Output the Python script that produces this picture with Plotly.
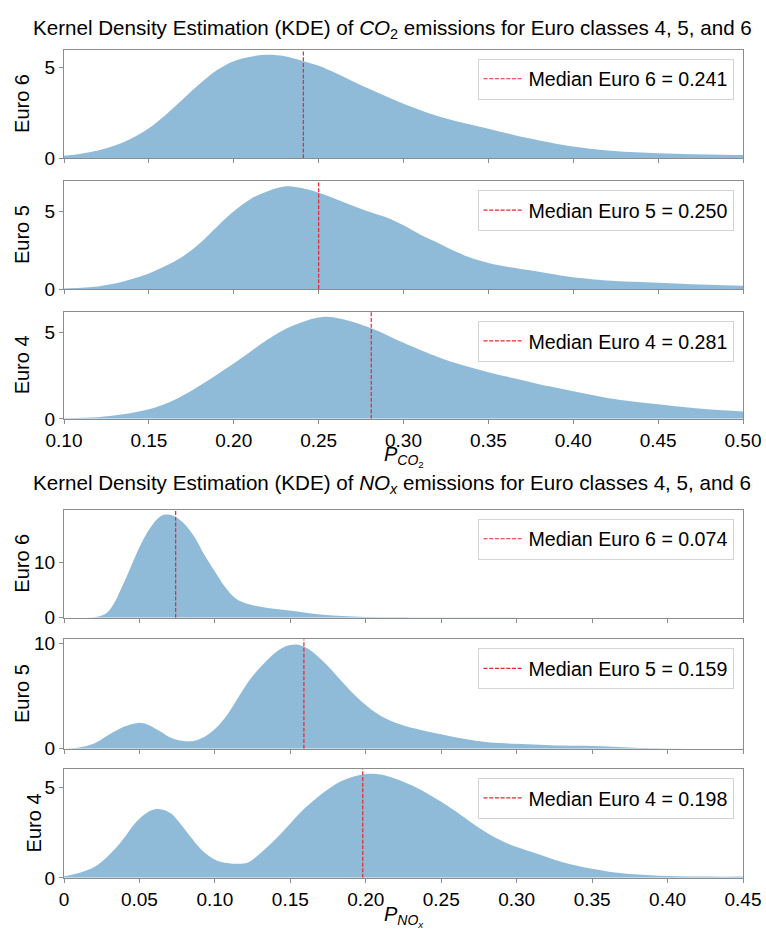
import plotly.graph_objects as go

# ---------------- data ----------------
co2_e6_x = [0.100, 0.110, 0.120, 0.130, 0.140, 0.150, 0.160, 0.170, 0.180, 0.190, 0.200, 0.210, 0.220,
            0.230, 0.241, 0.250, 0.260, 0.270, 0.280, 0.290, 0.300, 0.310, 0.320, 0.335, 0.350, 0.365,
            0.380, 0.400, 0.420, 0.440, 0.460, 0.480, 0.500]
co2_e6_y = [0.13, 0.25, 0.42, 0.7, 1.1, 1.65, 2.4, 3.25, 4.1, 4.85, 5.35, 5.6, 5.7,
            5.62, 5.35, 5.1, 4.7, 4.25, 3.82, 3.4, 3.0, 2.65, 2.33, 1.95, 1.62, 1.28,
            0.98, 0.65, 0.43, 0.31, 0.25, 0.21, 0.18]

co2_e5_x = [0.100, 0.110, 0.120, 0.130, 0.140, 0.150, 0.160, 0.170, 0.180, 0.190, 0.200, 0.210, 0.220,
            0.231, 0.240, 0.250, 0.263, 0.278, 0.290, 0.300, 0.310, 0.321, 0.330, 0.338, 0.350, 0.364,
            0.378, 0.390, 0.400, 0.420, 0.440, 0.460, 0.480, 0.500]
co2_e5_y = [0.04, 0.08, 0.17, 0.35, 0.65, 1.0, 1.5, 2.1, 2.95, 4.0, 5.0, 5.8, 6.3,
            6.62, 6.5, 6.2, 5.67, 5.04, 4.6, 4.1, 3.5, 2.94, 2.45, 2.08, 1.68, 1.38,
            1.14, 0.92, 0.76, 0.55, 0.45, 0.36, 0.27, 0.21]

co2_e4_x = [0.100, 0.120, 0.134, 0.150, 0.163, 0.177, 0.190, 0.200, 0.210, 0.220, 0.235, 0.252, 0.263,
            0.281, 0.300, 0.321, 0.335, 0.350, 0.365, 0.378, 0.400, 0.421, 0.450, 0.479, 0.500]
co2_e4_y = [0.04, 0.1, 0.25, 0.55, 1.0, 1.75, 2.55, 3.2, 3.9, 4.6, 5.4, 5.9, 5.8,
            5.25, 4.4, 3.55, 3.1, 2.7, 2.35, 2.05, 1.6, 1.2, 0.85, 0.55, 0.43]

nox_e6_x = [0.000, 0.015, 0.022, 0.0285, 0.033, 0.038, 0.043, 0.048, 0.053, 0.058, 0.062, 0.066, 0.070,
            0.074, 0.080, 0.087, 0.093, 0.100, 0.106, 0.114, 0.122, 0.135, 0.152, 0.168, 0.184, 0.200,
            0.230, 0.300, 0.450]
nox_e6_y = [0.0, 0.0, 0.15, 0.9, 2.5, 5.3, 8.3, 11.5, 14.3, 16.5, 17.8, 18.5, 18.5,
            18.1, 16.8, 14.3, 11.3, 8.3, 5.8, 3.4, 2.45, 1.75, 1.2, 0.6, 0.3, 0.12,
            0.05, 0.01, 0.0]

nox_e5_x = [0.000, 0.010, 0.020, 0.030, 0.040, 0.049, 0.056, 0.063, 0.070, 0.076, 0.082, 0.088, 0.095,
            0.103, 0.110, 0.117, 0.124, 0.132, 0.140, 0.147, 0.154, 0.160, 0.167, 0.175, 0.184, 0.197,
            0.210, 0.223, 0.236, 0.249, 0.265, 0.281, 0.300, 0.330, 0.350, 0.378, 0.400, 0.450]
nox_e5_y = [0.0, 0.12, 0.5, 1.35, 2.1, 2.45, 2.25, 1.7, 1.1, 0.8, 0.69, 0.8, 1.3,
            2.3, 3.6, 5.2, 6.7, 8.0, 9.1, 9.7, 9.87, 9.6, 8.9, 7.8, 6.4, 4.5,
            3.1, 2.3, 1.8, 1.4, 0.95, 0.62, 0.47, 0.3, 0.25, 0.1, 0.03, 0.0]

nox_e4_x = [0.000, 0.012, 0.022, 0.035, 0.048, 0.055, 0.061, 0.066, 0.071, 0.077, 0.084, 0.090, 0.097,
            0.103, 0.110, 0.116, 0.122, 0.132, 0.141, 0.150, 0.159, 0.168, 0.176, 0.184, 0.192, 0.200,
            0.207, 0.213, 0.222, 0.233, 0.241, 0.250, 0.259, 0.268, 0.281, 0.290, 0.300, 0.313, 0.330,
            0.350, 0.365, 0.378, 0.400, 0.427, 0.450]
nox_e4_y = [0.09, 0.33, 0.7, 1.7, 3.1, 3.6, 3.8, 3.75, 3.55, 3.0, 2.25, 1.65, 1.15,
            0.9, 0.8, 0.78, 0.85, 1.5, 2.2, 3.0, 3.8, 4.45, 4.95, 5.35, 5.6, 5.73,
            5.73, 5.65, 5.4, 5.0, 4.65, 4.2, 3.7, 3.17, 2.45, 2.05, 1.7, 1.35, 0.88,
            0.5, 0.3, 0.2, 0.1, 0.07, 0.07]

co2_medians = [0.241, 0.250, 0.281]   # Euro 6, 5, 4
nox_medians = [0.074, 0.159, 0.198]   # Euro 6, 5, 4
euro_labels = ["Euro 6", "Euro 5", "Euro 4"]

co2_xticks = [0.10, 0.15, 0.20, 0.25, 0.30, 0.35, 0.40, 0.45, 0.50]
co2_xticktext = ["0.10", "0.15", "0.20", "0.25", "0.30", "0.35", "0.40", "0.45", "0.50"]
nox_xticks = [0.0, 0.05, 0.10, 0.15, 0.20, 0.25, 0.30, 0.35, 0.40, 0.45]
nox_xticktext = ["0", "0.05", "0.10", "0.15", "0.20", "0.25", "0.30", "0.35", "0.40", "0.45"]
yticks_per_panel = [[0, 5], [0, 5], [0, 5], [0, 10], [0, 10], [0, 5]]

co2_title = "Kernel Density Estimation (KDE) of <i>CO</i><sub>2</sub> emissions for Euro classes 4, 5, and 6"
nox_title = "Kernel Density Estimation (KDE) of <i>NO<sub>x</sub></i> emissions for Euro classes 4, 5, and 6"
co2_xlabel = "<i>P</i><sub><i>CO</i><sub>2</sub></sub>"
nox_xlabel = "<i>P</i><sub><i>NO<sub>x</sub></i></sub>"

# ---------------- layout constants (pixels) ----------------
W, H = 766, 936
ML, MR = 64, 23
PW = W - ML - MR
panel_top = [44.5, 178.3, 311.5, 513, 645, 777]
panel_bot = [155, 288.3, 420.5, 623, 756.5, 888]
ylabel_x = [22, 22, 22, 22, 22, 34]

FONT = "Liberation Sans, Arial, Helvetica, sans-serif"
FILL = "rgba(31,119,180,0.5)"
SPINE = "#8c8c8c"

series = [
    (co2_e6_x, co2_e6_y, co2_medians[0], euro_labels[0], "co2"),
    (co2_e5_x, co2_e5_y, co2_medians[1], euro_labels[1], "co2"),
    (co2_e4_x, co2_e4_y, co2_medians[2], euro_labels[2], "co2"),
    (nox_e6_x, nox_e6_y, nox_medians[0], euro_labels[0], "nox"),
    (nox_e5_x, nox_e5_y, nox_medians[1], euro_labels[1], "nox"),
    (nox_e4_x, nox_e4_y, nox_medians[2], euro_labels[2], "nox"),
]

fig = go.Figure()
layout = dict(width=W, height=H, margin=dict(l=ML, r=MR, t=0, b=0),
              paper_bgcolor="white", plot_bgcolor="white",
              font=dict(family=FONT, size=19, color="black"),
              showlegend=True)
annotations = []


def py(px):
    return 1 - px / H


def pxx(px):
    return (px - ML) / PW


for i, (xs, ys, med, lab, grp) in enumerate(series):
    n = i + 1
    xa = "x" if n == 1 else f"x{n}"
    ya = "y" if n == 1 else f"y{n}"
    lg = "legend" if n == 1 else f"legend{n}"
    ymax = 1.05 * max(ys)
    fig.add_trace(go.Scatter(x=xs, y=ys, xaxis=xa, yaxis=ya, mode="lines",
                             line=dict(width=0, shape="spline", smoothing=1.0, color=FILL),
                             fill="tozeroy", fillcolor=FILL, showlegend=False, hoverinfo="skip"))
    fig.add_trace(go.Scatter(x=[med, med], y=[0, ymax], xaxis=xa, yaxis=ya, mode="lines",
                             line=dict(color="#e8262b", width=1.2, dash="4px,1.7px"),
                             name=f"Median {lab} = {med:.3f}", legend=lg, showlegend=True))
    is_co2 = grp == "co2"
    bottom = n in (3, 6)
    layout["xaxis" if n == 1 else f"xaxis{n}"] = dict(
        domain=[0, 1], anchor=ya,
        range=[0.1, 0.5] if is_co2 else [0.0, 0.45],
        tickvals=co2_xticks if is_co2 else nox_xticks,
        ticktext=co2_xticktext if is_co2 else nox_xticktext,
        showticklabels=bottom, ticks="outside", ticklen=4, tickwidth=1, tickcolor=SPINE,
        showline=True, mirror=True, linecolor=SPINE, linewidth=1,
        showgrid=False, zeroline=False, tickfont=dict(size=19))
    layout["yaxis" if n == 1 else f"yaxis{n}"] = dict(
        domain=[py(panel_bot[i]), py(panel_top[i])], anchor=xa,
        range=[0, ymax], tickvals=yticks_per_panel[i],
        ticks="outside", ticklen=4, tickwidth=1, tickcolor=SPINE,
        showline=True, mirror=True, linecolor=SPINE, linewidth=1,
        showgrid=False, zeroline=False, tickfont=dict(size=19))
    layout[lg] = dict(x=pxx(733.5), xanchor="right", y=py(panel_top[i] + 9), yanchor="top",
                      bgcolor="white", bordercolor="#d4d4d4", borderwidth=1,
                      font=dict(size=19.6, family=FONT), itemwidth=40)
    annotations.append(dict(text=lab, xref="paper", yref="paper", x=pxx(ylabel_x[i]),
                            y=py((panel_top[i] + panel_bot[i]) / 2), textangle=-90,
                            showarrow=False, xanchor="center", yanchor="middle",
                            font=dict(size=20)))

annotations += [
    dict(text=co2_title, xref="paper", yref="paper", x=pxx(392), y=py(23), showarrow=False,
         xanchor="center", yanchor="middle", font=dict(size=20.6)),
    dict(text=nox_title, xref="paper", yref="paper", x=pxx(392), y=py(487), showarrow=False,
         xanchor="center", yanchor="middle", font=dict(size=20.6)),
    dict(text=co2_xlabel, xref="paper", yref="paper", x=0.5, y=py(459), showarrow=False,
         xanchor="center", yanchor="middle", font=dict(size=20)),
    dict(text=nox_xlabel, xref="paper", yref="paper", x=0.5, y=py(927), showarrow=False,
         xanchor="center", yanchor="middle", font=dict(size=20)),
]
layout["annotations"] = annotations
fig.update_layout(**layout)
fig.write_html("out.html", config={"displayModeBar": False},
               post_script="document.body.style.margin='0';")
